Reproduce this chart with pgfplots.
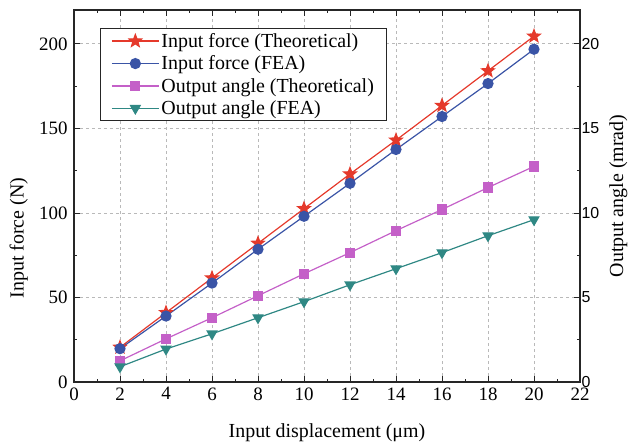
\documentclass[border=0pt]{standalone}
\usepackage{fontspec}
\setmainfont{Liberation Serif}
\setsansfont{Liberation Sans}
\usepackage{pgfplots}
\pgfplotsset{compat=1.18}
\definecolor{cRed}{RGB}{229,57,43}
\definecolor{cBlue}{RGB}{58,84,166}
\definecolor{cMag}{RGB}{196,96,200}
\definecolor{cTeal}{RGB}{47,136,132}
\newcommand{\fs}{\fontsize{20}{23}\selectfont}
\newcommand{\ft}{\fontsize{19}{22}\selectfont}
\pgfdeclareplotmark{fstar}{%
  \pgfpathmoveto{\pgfpointpolar{90}{\pgfplotmarksize}}%
  \pgfpathlineto{\pgfpointpolar{126}{0.42\pgfplotmarksize}}%
  \pgfpathlineto{\pgfpointpolar{162}{\pgfplotmarksize}}%
  \pgfpathlineto{\pgfpointpolar{198}{0.42\pgfplotmarksize}}%
  \pgfpathlineto{\pgfpointpolar{234}{\pgfplotmarksize}}%
  \pgfpathlineto{\pgfpointpolar{270}{0.42\pgfplotmarksize}}%
  \pgfpathlineto{\pgfpointpolar{306}{\pgfplotmarksize}}%
  \pgfpathlineto{\pgfpointpolar{342}{0.42\pgfplotmarksize}}%
  \pgfpathlineto{\pgfpointpolar{18}{\pgfplotmarksize}}%
  \pgfpathlineto{\pgfpointpolar{54}{0.42\pgfplotmarksize}}%
  \pgfpathclose\pgfusepathqfillstroke}
\begin{document}
\begin{tikzpicture}
\pgfplotsset{
  every axis/.append style={
    scale only axis, width=506bp, height=372bp,
    xmin=0, xmax=22, xtick={0,2,...,22}, minor x tick num=1,
    /pgf/number format/assume math mode=true,
    tick align=inside,
    axis line style={line width=1.1pt, black!85},
    major tick length=6bp, minor tick length=3.5bp,
    tick style={line width=0.8pt, black!85},
    label style={font=\fs},
    tick label style={font=\ft},
  },
  every axis plot/.append style={line width=1.2pt},
  legend image code/.code={\draw[mark repeat=2,mark phase=2] plot coordinates {(0bp,0bp)(23.5bp,0bp)(47bp,0bp)};},
}
\begin{axis}[name=ax,
  ytick pos=left,
  ymin=0, ymax=220, ytick={0,50,100,150,200}, minor y tick num=1,
  xlabel={Input displacement (μm)},
  ylabel={Input force (N)},
  grid=major,
  major grid style={dash pattern=on 3bp off 3bp, gray!55, line width=0.7pt},
  yticklabel style={xshift=-3bp},
  xticklabel style={yshift=-2bp},
  xlabel style={at={(axis description cs:0.5,-0.137)}, anchor=center},
  ylabel style={at={(axis description cs:-0.109,0.387)}, anchor=center},
]
\addplot[cRed, mark=fstar, mark size=6.5bp, mark options={solid, fill=cRed}] coordinates {
(2,20.5)(4,41)(6,61.5)(8,82)(10,102.5)(12,123)(14,143)(16,163.5)(18,184)(20,204.5)};
\addplot[cBlue, mark=*, mark size=5bp, mark options={fill=cBlue}] coordinates {
(2,19.7)(4,39)(6,58.5)(8,78.5)(10,98)(12,117.5)(14,137.5)(16,157)(18,176.5)(20,196.8)};
\end{axis}
\begin{axis}[
  axis y line*=right, axis x line=none,
  ymin=0, ymax=22, ytick={0,5,10,15,20}, minor y tick num=1,
  ylabel={Output angle (mrad)},
  yticklabel style={font=\sffamily\fontsize{16}{18}\selectfont, xshift=-2bp},
  ylabel style={at={(axis description cs:1.076,0.5)}, anchor=center},
  legend style={at={(0.051,0.952)}, anchor=north west, draw=black!85, line width=0.9pt,
    font=\fs, row sep=3bp, inner xsep=11bp, inner ysep=3bp,
    cells={anchor=west}},
]
\addlegendimage{cRed, line width=1.2pt, mark=fstar, mark size=6.5bp, mark options={solid, fill=cRed}}
\addlegendentry{Input force (Theoretical)}
\addlegendimage{cBlue, line width=1.2pt, mark=*, mark size=5bp, mark options={fill=cBlue}}
\addlegendentry{Input force (FEA)}
\addplot[cMag, mark=square*, mark size=4.5bp, mark options={fill=cMag}] coordinates {
(2,1.25)(4,2.55)(6,3.8)(8,5.1)(10,6.4)(12,7.65)(14,8.95)(16,10.2)(18,11.5)(20,12.75)};
\addlegendentry{Output angle (Theoretical)}
\addplot[cTeal, mark=triangle*, mark size=5.5bp, mark options={rotate=180, fill=cTeal}] coordinates {
(2,0.9)(4,1.95)(6,2.85)(8,3.8)(10,4.75)(12,5.75)(14,6.7)(16,7.65)(18,8.65)(20,9.6)};
\addlegendentry{Output angle (FEA)}
\end{axis}
\pgfresetboundingbox
\path ([xshift=-74bp,yshift=-64bp]ax.south west) rectangle ([xshift=49bp,yshift=10bp]ax.north east);
\end{tikzpicture}
\end{document}
